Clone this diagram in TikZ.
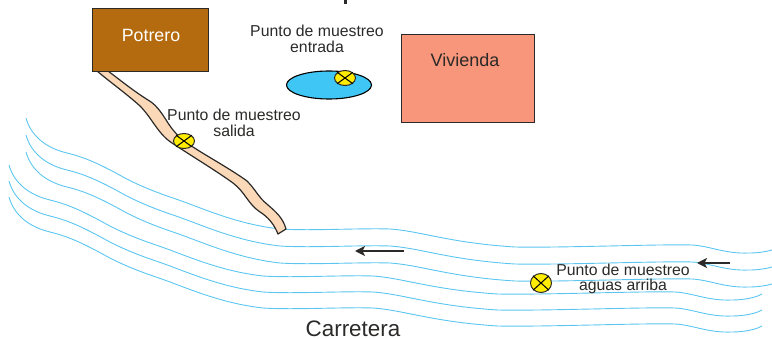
\documentclass[tikz,border=0pt]{standalone}
\usepackage{fontspec}
\setmainfont{Liberation Sans}
\usetikzlibrary{arrows.meta,shapes.geometric}
\definecolor{riverblue}{HTML}{5CC6F0}
\definecolor{pondblue}{HTML}{3FC6F4}
\definecolor{potrerofill}{HTML}{B46B10}
\definecolor{viviendafill}{HTML}{F7967A}
\definecolor{streamfill}{HTML}{FBD9B8}
\definecolor{inkdark}{HTML}{2B2A29}
\definecolor{markyellow}{HTML}{FFEC00}
\tikzset{
  x=1pt,y=-1pt,
  riverline/.style={draw=riverblue,line width=0.9pt},
  building/.style={draw=inkdark,line width=1.3pt,inner sep=0pt,anchor=north west},
  lbl/.style={text=inkdark,font=\fontsize{15.8}{16}\selectfont,align=center,inner sep=0pt},
  flowarrow/.style={draw=inkdark,line width=1.2pt,-{Stealth[length=10pt,width=10pt,inset=2.5pt]}},
  marklegs/.style={draw=black,line width=1pt},
}
\newcommand{\samplemark}[4]{%
  \node[draw=inkdark,fill=markyellow,ellipse,line width=1pt,minimum width=#3pt,minimum height=#4pt,inner sep=0pt] (#1) at #2 {};
  \draw[marklegs] (#1.north west) -- (#1.south east);
  \draw[marklegs] (#1.north east) -- (#1.south west);
}
\newcommand{\riverbody}{(26,118) .. controls (31,136) and (46,148) .. (67,153)
  .. controls (88,158) and (105,167) .. (125,178)
  .. controls (140,186) and (158,193) .. (173,198)
  .. controls (200,207) and (235,224) .. (280,229)
  .. controls (310,231) and (360,228) .. (390,229)
  .. controls (420,231) and (450,243) .. (515,247)
  .. controls (560,248) and (660,244) .. (692,245)
  .. controls (710,246) and (725,254) .. (749,253)}
\begin{document}
\begin{tikzpicture}
\useasboundingbox (0,0) rectangle (772,339);
\clip (0,0) rectangle (772,339);
% river: upper three lines
\foreach \dy in {0,17,34}{
  \draw[riverline,shift={(0,\dy)}] \riverbody .. controls (757,253) and (765,252) .. (772,250);
}
% river: lower three lines
\foreach \dy in {0,16,32}{
  \draw[riverline,shift={(-17,47+\dy)}] \riverbody .. controls (760,253) and (772,251) .. (779,247);
}
% stream
\draw[draw=inkdark,fill=streamfill,line width=1.2pt,line join=round]
  (97,71) .. controls (110,82) and (128,95) .. (140,106)
  .. controls (152,118) and (158,134) .. (172,143)
  .. controls (190,155) and (215,170) .. (233,183)
  .. controls (245,192) and (248,204) .. (260,212)
  .. controls (268,217) and (274,224) .. (278,234)
  -- (286,229)
  .. controls (283,218) and (276,212) .. (268,205)
  .. controls (258,197) and (256,190) .. (247,181)
  .. controls (232,170) and (205,155) .. (193,147)
  .. controls (180,139) and (174,132) .. (168,123)
  .. controls (160,110) and (155,104) .. (148,100)
  .. controls (135,92) and (120,80) .. (108,71)
  -- cycle;
% buildings
\node[building,fill=potrerofill,minimum width=116pt,minimum height=63pt] (potrero) at (92,8) {};
\node[text=white,font=\fontsize{17.8}{18}\selectfont,inner sep=0pt] (potrerotxt) at (151,35) {Potrero};
\node[building,fill=viviendafill,minimum width=133pt,minimum height=88pt] (vivienda) at (401,34) {};
\node[text=inkdark,font=\fontsize{18}{18}\selectfont,inner sep=0pt] (viviendatxt) at (465,60) {Vivienda};
% pond
\node[draw=black,fill=pondblue,ellipse,line width=1.1pt,minimum width=85pt,minimum height=28pt,inner sep=0pt] (pond) at (329,85) {};
% markers
\samplemark{mentrada}{(345,78)}{21}{15}
\samplemark{msalida}{(184,141)}{21}{15}
\samplemark{marriba}{(541,283)}{21}{19}
% labels
\node[lbl] (lentrada) at (317,39) {Punto de muestreo\\[-0.6pt]entrada};
\node[lbl] (lsalida) at (234,123) {Punto de muestreo\\[-0.6pt]salida};
\node[lbl] (larriba) at (623,279) {Punto de muestreo\\[-0.6pt]aguas arriba};
\node[text=inkdark,font=\fontsize{22.4}{23}\selectfont,inner sep=0pt] (carretera) at (353,328.5) {Carretera};
% arrows
\coordinate (a1s) at (404,251); \coordinate (a1e) at (355,251);
\coordinate (a2s) at (730,263); \coordinate (a2e) at (697,263);
\draw[flowarrow] (a1s) -- (a1e);
\draw[flowarrow] (a2s) -- (a2e);
% stub at the top edge
\coordinate (st1) at (345,-1); \coordinate (st2) at (345,4.5);
\draw[draw=inkdark,line width=3pt] (st1) -- (st2);
\end{tikzpicture}
\end{document}
